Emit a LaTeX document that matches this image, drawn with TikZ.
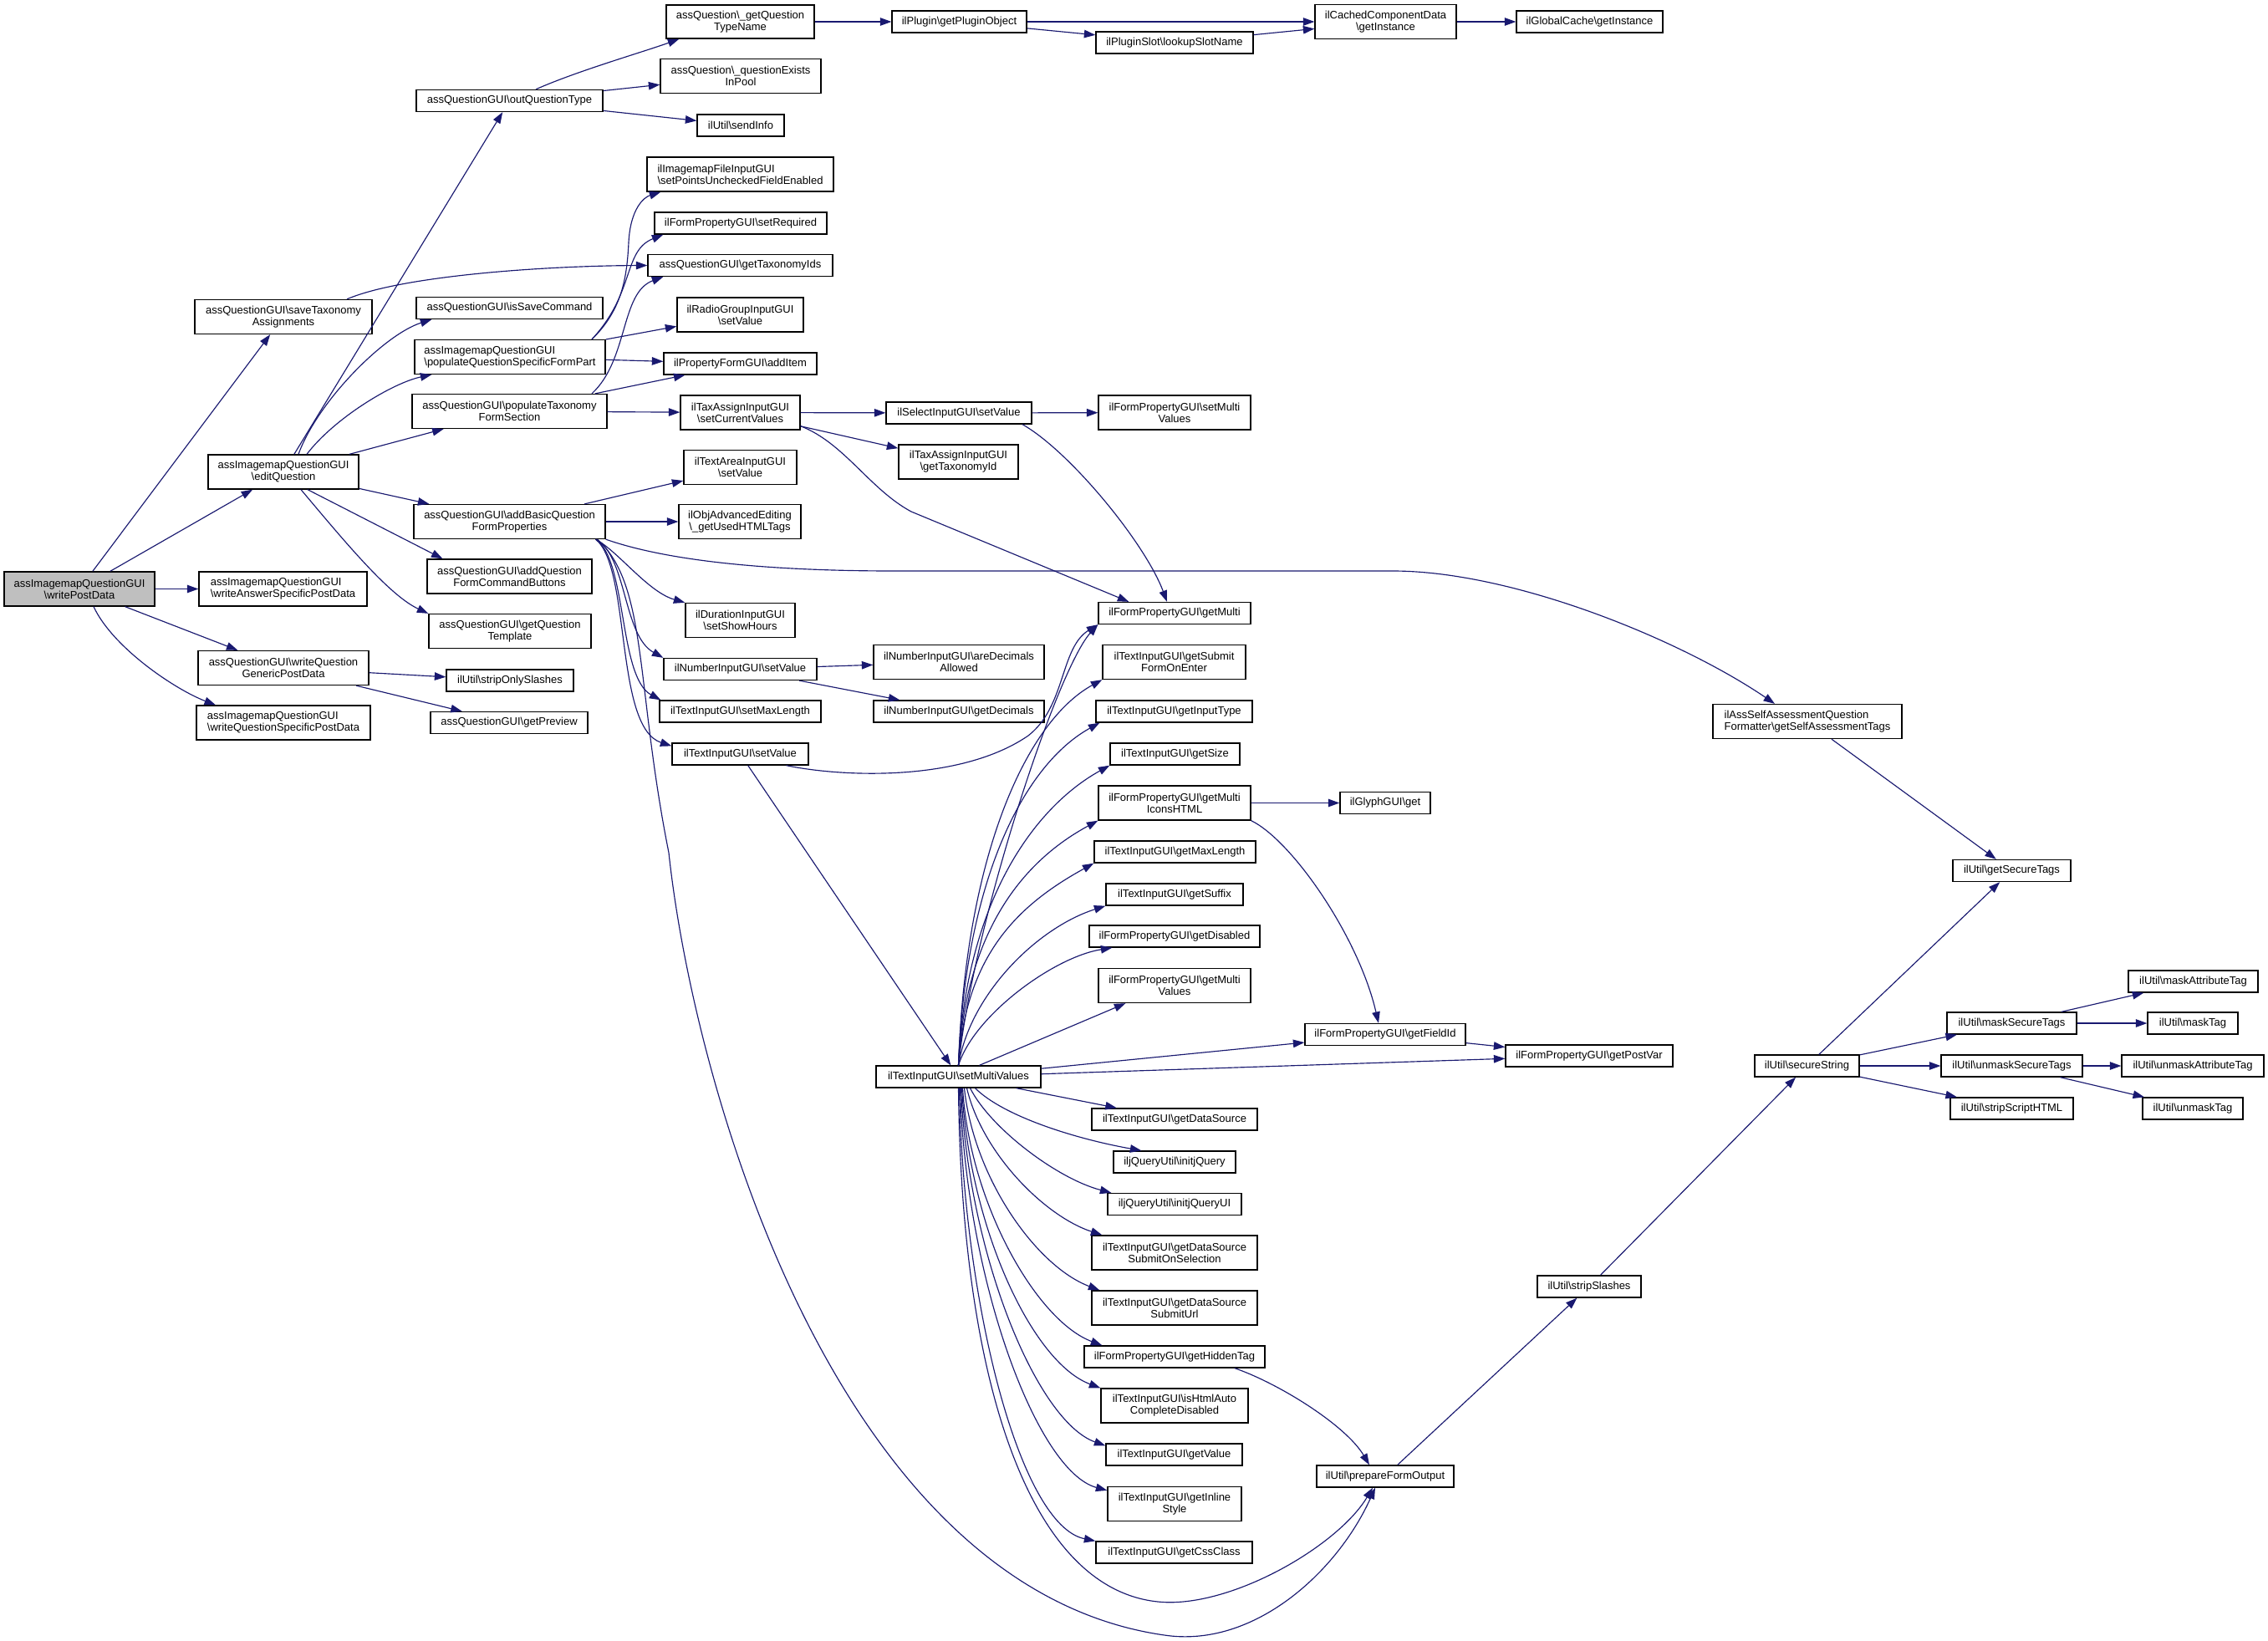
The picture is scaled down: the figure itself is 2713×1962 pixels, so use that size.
\documentclass[tikz,border=0pt]{standalone}
\usepackage{fontspec}
\setmainfont{Liberation Sans}
\usetikzlibrary{arrows.meta}
\definecolor{edgec}{HTML}{191970}
\newcommand{\bs}{\textbackslash}
\begin{document}
\begin{tikzpicture}[x=1pt,y=-1pt,
  box/.style={draw=black, line width=1.3pt, fill=white, inner sep=0pt, minimum height=26pt, font=\fontsize{13}{14}\selectfont, align=center},
  two/.style={minimum height=41pt},
  lft/.style={align=left},
  e/.style={draw=edgec, line width=1.15pt, -{Triangle[length=13.5pt,width=9.5pt]}}]
\fill[white] (0,0) rectangle (2713,1962);
\useasboundingbox (0,0) rectangle (2713,1962);
% column 1-2
\node[box,two,fill=gray!50,minimum width=180pt] (wpd) at (95,704.5) {assImagemapQuestionGUI\\\bs writePostData};
\node[box,two,lft,minimum width=201pt] (wasp) at (338.5,704.5) {assImagemapQuestionGUI\\\bs writeAnswerSpecificPostData};
\node[box,two,minimum width=204pt] (wqg) at (339,799) {assQuestionGUI\bs writeQuestion\\GenericPostData};
\node[box,two,lft,minimum width=208pt] (wqs) at (339,864.5) {assImagemapQuestionGUI\\\bs writeQuestionSpecificPostData};
\node[box,two,minimum width=212pt] (sta) at (339,379) {assQuestionGUI\bs saveTaxonomy\\Assignments};
\node[box,two,minimum width=180pt] (eq) at (339,564.5) {assImagemapQuestionGUI\\\bs editQuestion};
% column 3
\node[box,minimum width=223pt] (oqt) at (609.5,120.5) {assQuestionGUI\bs outQuestionType};
\node[box,minimum width=223pt] (isc) at (609.5,368.5) {assQuestionGUI\bs isSaveCommand};
\node[box,two,lft,minimum width=228pt] (pqs) at (610,427) {assImagemapQuestionGUI\\\bs populateQuestionSpecificFormPart};
\node[box,two,minimum width=233pt] (ptf) at (609.5,492) {assQuestionGUI\bs populateTaxonomy\\FormSection};
\node[box,two,minimum width=229pt] (abq) at (609.5,624) {assQuestionGUI\bs addBasicQuestion\\FormProperties};
\node[box,two,minimum width=197pt] (aqfcb) at (609.5,689.5) {assQuestionGUI\bs addQuestion\\FormCommandButtons};
\node[box,two,minimum width=194pt] (gqt) at (610,755) {assQuestionGUI\bs getQuestion\\Template};
\node[box,minimum width=152pt] (sos) at (610,814) {ilUtil\bs stripOnlySlashes};
\node[box,minimum width=188pt] (gp) at (609,864.5) {assQuestionGUI\bs getPreview};
% column 4
\node[box,two,minimum height=40pt,minimum width=177pt] (gqtn) at (885.5,26) {assQuestion\bs\_getQuestion\\TypeName};
\node[box,two,minimum width=192pt] (qeip) at (886,91) {assQuestion\bs\_questionExists\\InPool};
\node[box,minimum width=104pt] (si) at (886,150) {ilUtil\bs sendInfo};
\node[box,two,lft,minimum width=223pt] (spu) at (885.5,208.5) {ilImagemapFileInputGUI\\\bs setPointsUncheckedFieldEnabled};
\node[box,minimum width=206pt] (sr) at (886,267) {ilFormPropertyGUI\bs setRequired};
\node[box,minimum width=221pt] (gti) at (885.5,317.5) {assQuestionGUI\bs getTaxonomyIds};
\node[box,two,minimum width=151pt] (rg) at (885.5,376.5) {ilRadioGroupInputGUI\\\bs setValue};
\node[box,minimum width=183pt] (ai) at (885.5,435) {ilPropertyFormGUI\bs addItem};
\node[box,two,minimum width=143pt] (scv) at (885.5,493.5) {ilTaxAssignInputGUI\\\bs setCurrentValues};
\node[box,two,minimum width=135pt] (tasv) at (885.5,559) {ilTextAreaInputGUI\\\bs setValue};
\node[box,two,minimum width=146pt] (oae) at (885,624) {ilObjAdvancedEditing\\\bs\_getUsedHTMLTags};
\node[box,two,minimum width=131pt] (dsh) at (885.5,742) {ilDurationInputGUI\\\bs setShowHours};
\node[box,minimum width=183pt] (nsv) at (885.5,800.5) {ilNumberInputGUI\bs setValue};
\node[box,minimum width=193pt] (sml) at (885.5,851) {ilTextInputGUI\bs setMaxLength};
\node[box,minimum width=163pt] (tsv) at (885.5,902) {ilTextInputGUI\bs setValue};
% column 5
\node[box,minimum width=161pt] (gpo) at (1147.5,26) {ilPlugin\bs getPluginObject};
\node[box,minimum width=174pt] (ssv) at (1147,494) {ilSelectInputGUI\bs setValue};
\node[box,two,minimum width=143pt] (tgi) at (1146.5,552.5) {ilTaxAssignInputGUI\\\bs getTaxonomyId};
\node[box,two,minimum width=204pt] (nad) at (1147,792) {ilNumberInputGUI\bs areDecimals\\Allowed};
\node[box,minimum width=204pt] (ngd) at (1147,851) {ilNumberInputGUI\bs getDecimals};
\node[box,minimum width=197pt] (smv) at (1146.5,1288) {ilTextInputGUI\bs setMultiValues};
% column 6
\node[box,minimum width=188pt] (pst) at (1405,51) {ilPluginSlot\bs lookupSlotName};
\node[box,two,minimum width=182pt] (fsmv) at (1405,493.5) {ilFormPropertyGUI\bs setMulti\\Values};
\node[box,minimum width=182pt] (gm) at (1405,733.5) {ilFormPropertyGUI\bs getMulti};
\node[box,two,minimum width=171pt] (gsfe) at (1404.5,792) {ilTextInputGUI\bs getSubmit\\FormOnEnter};
\node[box,minimum width=187pt] (git) at (1404.5,851) {ilTextInputGUI\bs getInputType};
\node[box,minimum width=155pt] (gs) at (1405.5,902) {ilTextInputGUI\bs getSize};
\node[box,two,minimum width=182pt] (gmih) at (1405,960.5) {ilFormPropertyGUI\bs getMulti\\IconsHTML};
\node[box,minimum width=193pt] (gml) at (1405.5,1019) {ilTextInputGUI\bs getMaxLength};
\node[box,minimum width=164pt] (gsuf) at (1405,1070) {ilTextInputGUI\bs getSuffix};
\node[box,minimum width=204pt] (gdis) at (1405,1120) {ilFormPropertyGUI\bs getDisabled};
\node[box,two,minimum width=182pt] (gmv) at (1405,1179) {ilFormPropertyGUI\bs getMulti\\Values};
\node[box,minimum width=198pt] (gds) at (1405,1339) {ilTextInputGUI\bs getDataSource};
\node[box,minimum width=146pt] (ijq) at (1405,1390) {iljQueryUtil\bs initjQuery};
\node[box,minimum width=160pt] (ijqui) at (1405,1440.5) {iljQueryUtil\bs initjQueryUI};
\node[box,two,minimum width=198pt] (gdsso) at (1405,1498.5) {ilTextInputGUI\bs getDataSource\\SubmitOnSelection};
\node[box,two,minimum width=198pt] (gdsu) at (1405,1564.5) {ilTextInputGUI\bs getDataSource\\SubmitUrl};
\node[box,minimum width=216pt] (ght) at (1405,1623) {ilFormPropertyGUI\bs getHiddenTag};
\node[box,two,minimum width=176pt] (ihacd) at (1405,1681.5) {ilTextInputGUI\bs isHtmlAuto\\CompleteDisabled};
\node[box,minimum width=163pt] (gv) at (1404.5,1740) {ilTextInputGUI\bs getValue};
\node[box,two,minimum width=160pt] (gis) at (1405,1799) {ilTextInputGUI\bs getInline\\Style};
\node[box,minimum width=187pt] (gcc) at (1404.5,1857) {ilTextInputGUI\bs getCssClass};
% column 7
\node[box,two,minimum width=169pt] (ccd) at (1657.5,26) {ilCachedComponentData\\\bs getInstance};
\node[box,minimum width=108pt] (glyph) at (1657,960.5) {ilGlyphGUI\bs get};
\node[box,minimum width=192pt] (gfi) at (1657,1237.5) {ilFormPropertyGUI\bs getFieldId};
\node[box,minimum width=164pt] (pfo) at (1657,1766) {ilUtil\bs prepareFormOutput};
% column 8
\node[box,minimum width=175pt] (gc) at (1901.5,26) {ilGlobalCache\bs getInstance};
\node[box,minimum width=200pt] (gpv) at (1901,1263) {ilFormPropertyGUI\bs getPostVar};
\node[box,minimum width=124pt] (ss) at (1901,1539) {ilUtil\bs stripSlashes};
% column 9
\node[box,two,lft,minimum width=226pt] (sat) at (2162,863) {ilAssSelfAssessmentQuestion\\Formatter\bs getSelfAssessmentTags};
\node[box,minimum width=125pt] (sstr) at (2161.5,1275) {ilUtil\bs secureString};
% column 10
\node[box,minimum width=141pt] (gst) at (2406.5,1041.5) {ilUtil\bs getSecureTags};
\node[box,minimum width=155pt] (mst) at (2406.5,1224) {ilUtil\bs maskSecureTags};
\node[box,minimum width=169pt] (ust) at (2406.5,1275) {ilUtil\bs unmaskSecureTags};
\node[box,minimum width=147pt] (ssh) at (2406.5,1326) {ilUtil\bs stripScriptHTML};
% column 11
\node[box,minimum width=155pt] (mat) at (2623.5,1174) {ilUtil\bs maskAttributeTag};
\node[box,minimum width=108pt] (mt) at (2623,1224) {ilUtil\bs maskTag};
\node[box,minimum width=170pt] (uat) at (2623,1275) {ilUtil\bs unmaskAttributeTag};
\node[box,minimum width=120pt] (ut) at (2623,1326) {ilUtil\bs unmaskTag};

% ---------- edges ----------
\draw[e] (wpd) -- (sta);
\draw[e] (wpd) -- (eq);
\draw[e] (wpd) -- (wasp);
\draw[e] (wpd) -- (wqg);
\draw[e] ([xshift=17pt]wpd.south) .. controls (135,775) and (210,825) .. ([xshift=-81pt]wqs.north);
\draw[e] ([xshift=76pt]sta.north) .. controls (480,330) and (650,318) .. (gti.west);
\draw[e] (eq) -- (oqt);
\draw[e] ([xshift=18pt]eq.north) .. controls (380,480) and (460,400) .. ([xshift=19pt]isc.south west);
\draw[e] ([xshift=28pt]eq.north) .. controls (400,500) and (470,458) .. ([xshift=21pt]pqs.south west);
\draw[e] (eq) -- (ptf);
\draw[e] (eq) -- (abq);
\draw[e] ([xshift=29pt]eq.south) -- ([xshift=-80pt]aqfcb.north);
\draw[e] ([xshift=21pt]eq.south) .. controls (410,645) and (465,712) .. (gqt.north west);
\draw[e] (wqg) -- (sos);
\draw[e] (wqg) -- (gp);
% outQuestionType
\draw[e] ([xshift=31.5pt]oqt.north) .. controls (690,85) and (770,62) .. ([xshift=16pt]gqtn.south west);
\draw[e] (oqt) -- (qeip);
\draw[e] (oqt) -- (si);
\draw[e] (gqtn) -- (gpo);
\draw[e] (gpo) -- (ccd);
\draw[e] (gpo) -- (pst);
\draw[e] (pst) -- (ccd);
\draw[e] (ccd) -- (gc);
% populateQuestionSpecificFormPart
\draw[e] ([xshift=98pt]pqs.north) .. controls (745,370) and (750,330) .. (752,290) .. controls (754,250) and (770,236) .. ([xshift=17pt]spu.south west);
\draw[e] ([xshift=98pt]pqs.north) .. controls (760,350) and (745,300) .. ([xshift=11pt]sr.south west);
\draw[e] (pqs) -- (rg);
\draw[e] (pqs) -- (ai);
% populateTaxonomyFormSection
\draw[e] ([xshift=98.5pt]ptf.north) .. controls (752,430) and (742,350) .. ([xshift=19pt]gti.south west);
\draw[e] (ptf) -- (ai);
\draw[e] (ptf) -- (scv);
% setCurrentValues
\draw[e] (scv) -- (ssv);
\draw[e] (scv) -- (tgi);
\draw[e] ([yshift=5pt]scv.south east) .. controls (1010,530) and (1040,585) .. (1090,612) -- ([xshift=37pt]gm.north west);
\draw[e] (ssv) -- (fsmv);
\draw[e] ([xshift=76pt]ssv.south) .. controls (1280,540) and (1370,650) .. ([xshift=-9pt]gm.north);
% addBasicQuestionFormProperties
\draw[e] (abq) -- (tasv);
\draw[e] (abq) -- (oae);
\draw[e] (abq.south east) .. controls (790,668) and (900,683) .. (1070,683) -- (1666,683) .. controls (1810,683) and (2010,765) .. ([xshift=-39pt]sat.north);
\draw[e] ([xshift=-12pt]abq.south east) .. controls (740,660) and (775,708) .. (dsh.north west);
\draw[e] ([xshift=-12pt]abq.south east) .. controls (750,665) and (745,760) .. (nsv.north west);
\draw[e] ([xshift=-12pt]abq.south east) .. controls (750,670) and (740,810) .. ([xshift=2pt]sml.north west);
\draw[e] ([xshift=-12pt]abq.south east) .. controls (755,680) and (735,870) .. ([yshift=-4pt]tsv.north west);
\draw[e] ([xshift=-10pt]abq.south east) .. controls (775,700) and (760,820) .. (800,1020) .. controls (830,1300) and (1000,1900) .. (1393,1956) .. controls (1500,1972) and (1600,1880) .. ([xshift=-12pt]pfo.south);
% number input
\draw[e] (nsv) -- (nad);
\draw[e] (nsv) -- (ngd);
% text input setValue
\draw[e] (tsv) -- (smv);
\draw[e] ([xshift=55pt]tsv.south) .. controls (1010,930) and (1150,935) .. (1230,880) .. controls (1275,845) and (1268,775) .. (gm.south west);
% setMultiValues fan up
\draw[e] (smv.north) .. controls (1165,1100) and (1265,800) .. (gm.south west);
\draw[e] (smv.north) .. controls (1155,1020) and (1229,862) .. (gsfe.south west);
\draw[e] (smv.north) .. controls (1155,1049) and (1226,914) .. ([xshift=5pt]git.south west);
\draw[e] (smv.north) .. controls (1155,1077) and (1238,965) .. (gs.south west);
\draw[e] (smv.north) .. controls (1155,1113) and (1224,1030) .. (gmih.south west);
\draw[e] (smv.north) .. controls (1155,1141) and (1219,1082) .. (gml.south west);
\draw[e] (smv.north) .. controls (1160,1190) and (1240,1110) .. (gsuf.south west);
\draw[e] (smv.north) .. controls (1165,1215) and (1260,1145) .. ([xshift=28pt]gdis.south west);
\draw[e] ([xshift=25pt]smv.north) -- ([xshift=33pt]gmv.south west);
\draw[e] (smv) -- (gfi);
\draw[e] (smv) -- (gpv);
% setMultiValues fan down
\draw[e] (smv) -- (gds);
\draw[e] ([xshift=20pt]smv.south) .. controls (1200,1335) and (1285,1362) .. ([xshift=34pt]ijq.north west);
\draw[e] ([xshift=14pt]smv.south) .. controls (1185,1350) and (1265,1410) .. ([xshift=5pt]ijqui.north west);
\draw[e] ([xshift=10pt]smv.south) .. controls (1175,1380) and (1250,1455) .. ([xshift=13pt]gdsso.north west);
\draw[e] ([xshift=7pt]smv.south) .. controls (1165,1410) and (1240,1515) .. ([xshift=10pt]gdsu.north west);
\draw[e] ([xshift=5pt]smv.south) .. controls (1160,1440) and (1240,1580) .. ([xshift=22pt]ght.north west);
\draw[e] ([xshift=4pt]smv.south) .. controls (1160,1470) and (1235,1630) .. (ihacd.north west);
\draw[e] ([xshift=3pt]smv.south) .. controls (1158,1500) and (1240,1700) .. ([yshift=-3pt]gv.north west);
\draw[e] ([xshift=2pt]smv.south) .. controls (1155,1530) and (1240,1760) .. ([yshift=-5pt]gis.north west);
\draw[e] ([xshift=1pt]smv.south) .. controls (1152,1560) and (1220,1825) .. (gcc.north west);
\draw[e] (smv.south) .. controls (1150,1650) and (1230,1900) .. (1385,1916) .. controls (1470,1925) and (1600,1850) .. ([xshift=-15pt]pfo.south);
% multi icons
\draw[e] (gmih) -- (glyph);
\draw[e] (gmih.south east) .. controls (1545,1005) and (1625,1120) .. ([xshift=-8pt]gfi.north);
\draw[e] (gfi) -- (gpv);
% hidden tag / output
\draw[e] ([xshift=72pt]ght.south) .. controls (1530,1655) and (1610,1705) .. ([xshift=-19pt]pfo.north);
\draw[e] (pfo) -- (ss);
\draw[e] (ss) -- (sstr);
\draw[e] (sat) -- (gst);
\draw[e] (sstr) -- (gst);
\draw[e] (sstr) -- (mst);
\draw[e] (sstr) -- (ust);
\draw[e] (sstr) -- (ssh);
\draw[e] (mst) -- (mat);
\draw[e] (mst) -- (mt);
\draw[e] (ust) -- (uat);
\draw[e] (ust) -- (ut);
\end{tikzpicture}
\end{document}
